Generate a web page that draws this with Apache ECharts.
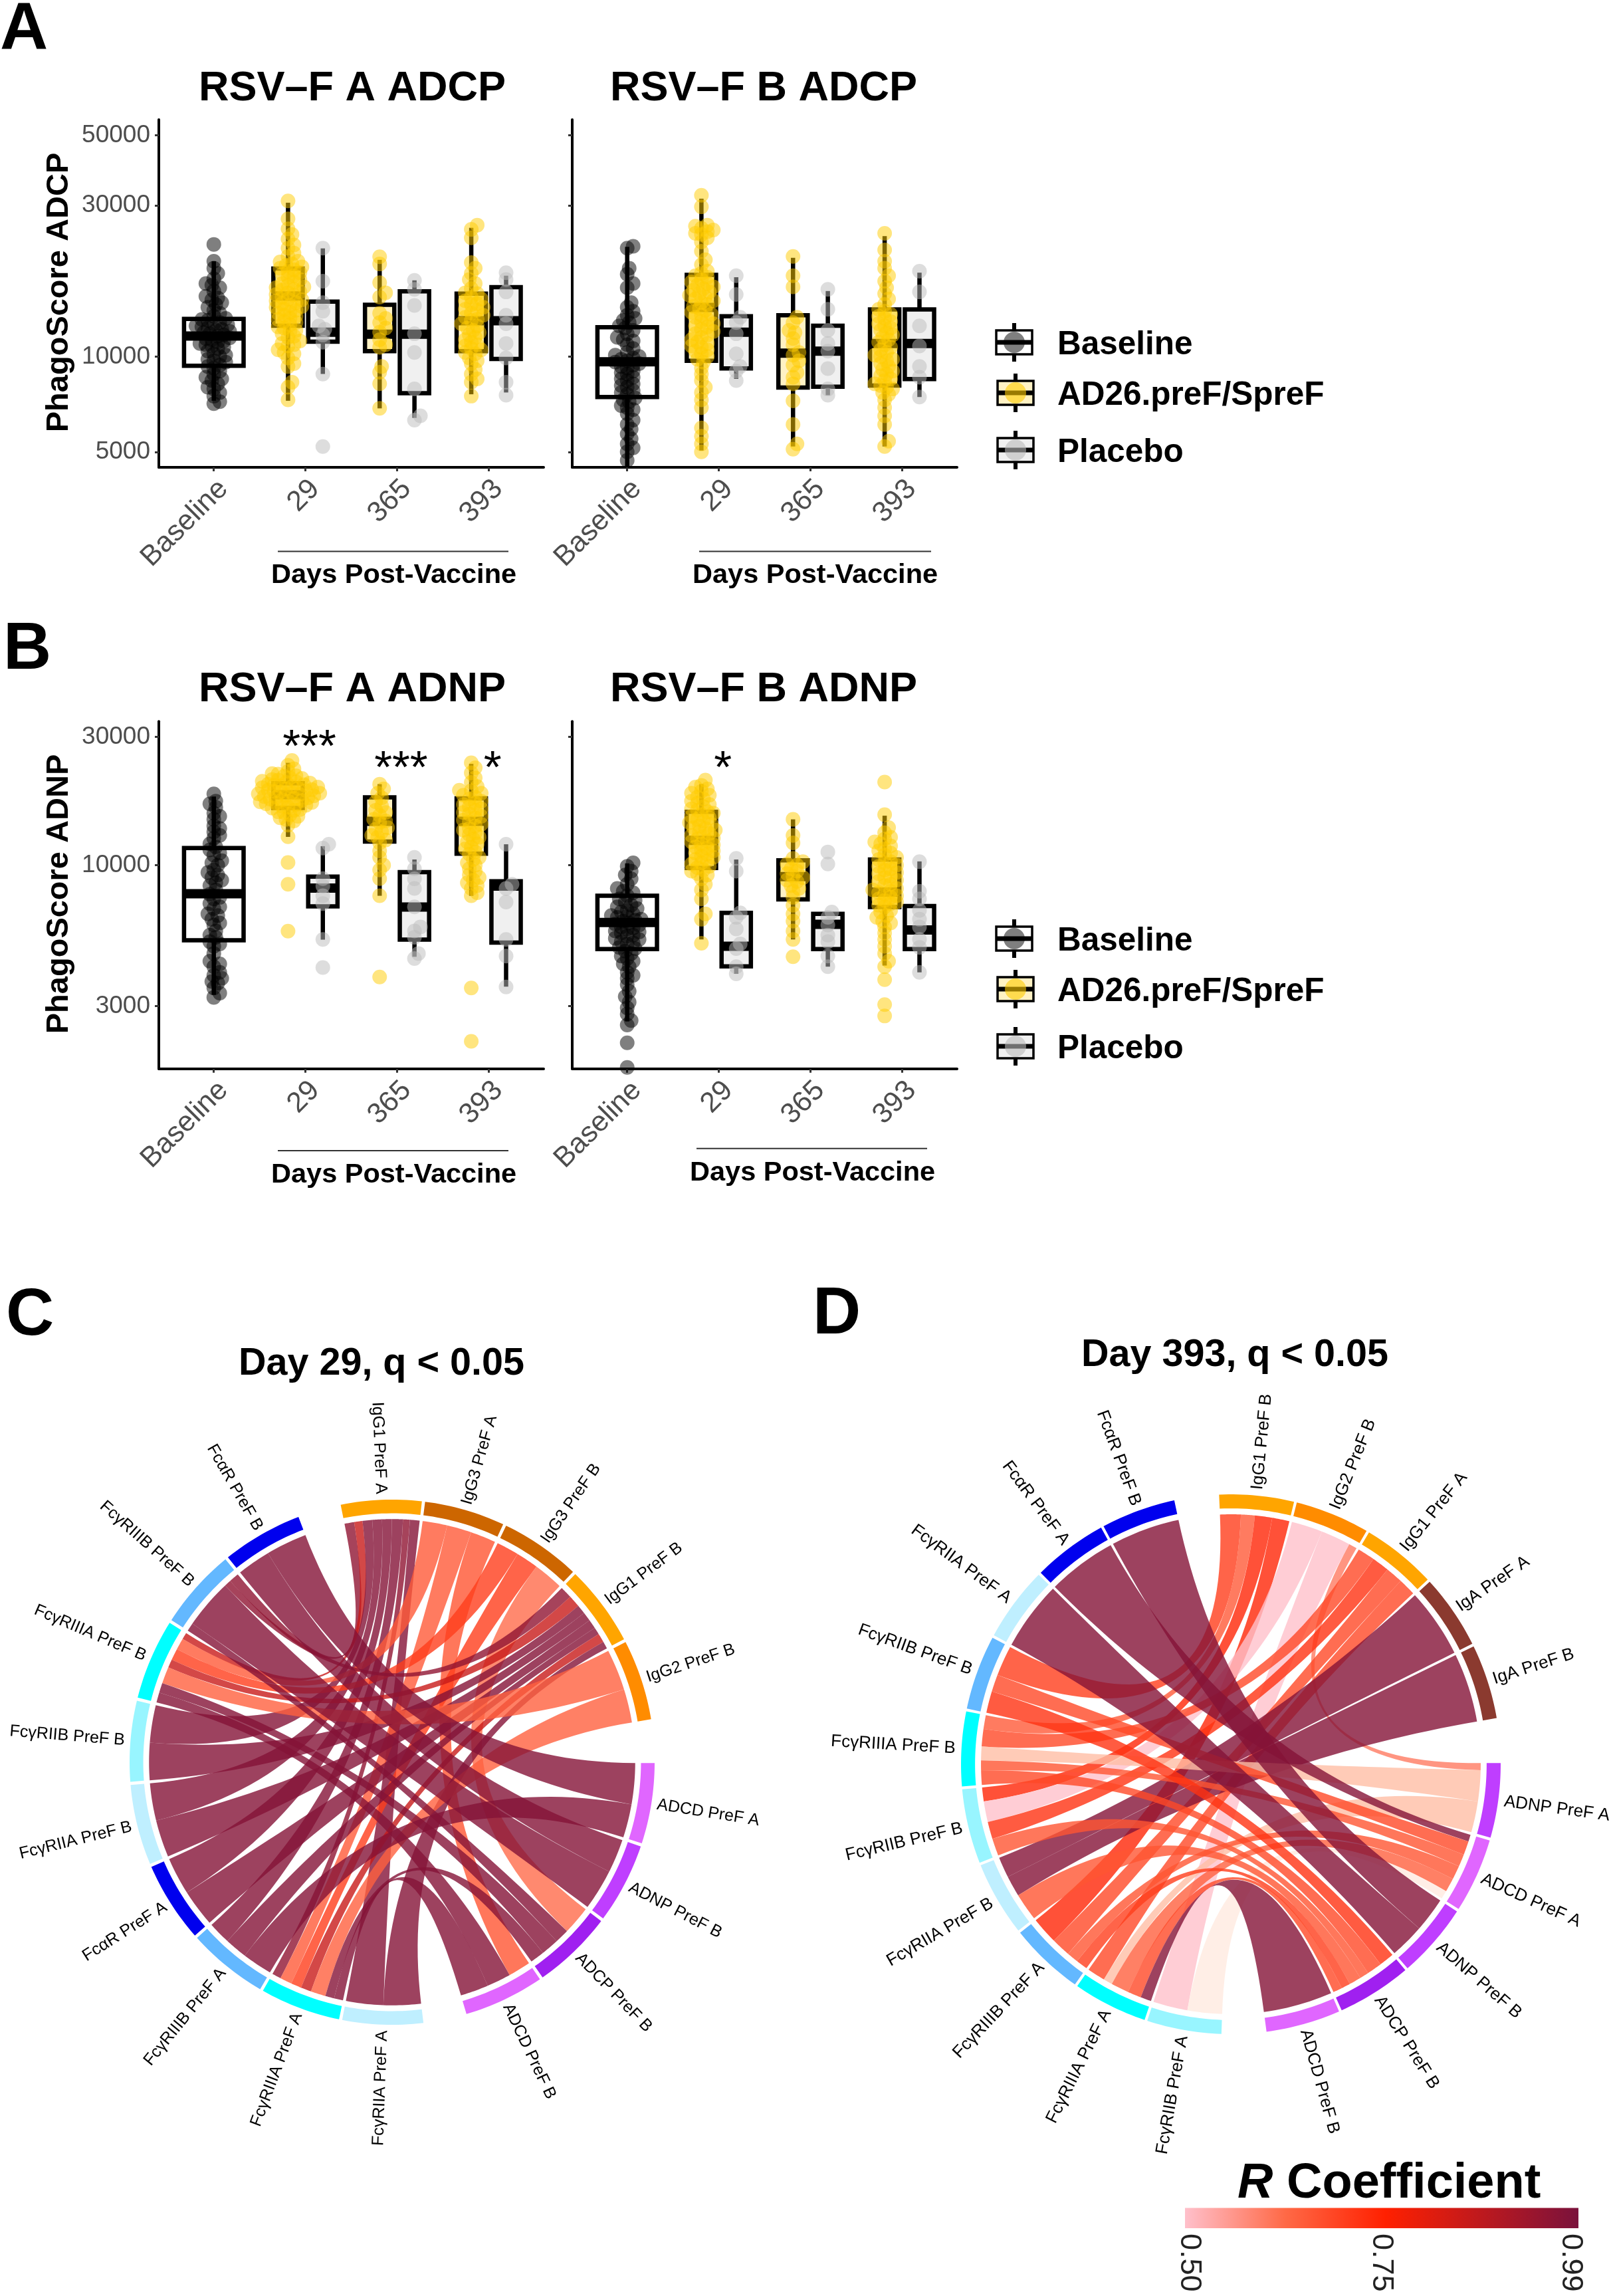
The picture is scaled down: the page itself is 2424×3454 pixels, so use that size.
<!DOCTYPE html>
<html><head><meta charset="utf-8"><style>html,body{margin:0;padding:0;background:#fff}#c{width:2424px;height:3454px}</style>
<script src="https://cdn.jsdelivr.net/npm/echarts@6/dist/echarts.min.js"></script></head><body><div id="c"></div>
<script>
const dayCategories=['Baseline','29','365','393'];
const adcpTicks=[5000,10000,30000,50000];
const adnpTicks=[3000,10000,30000];
const groupOrder=['Baseline','AD26.preF/SpreF','Placebo'];
// box stats: [low whisker, q1, median, q3, high whisker], order: baseline, vac29, pla29, vac365, pla365, vac393, pla393
const adcpA_box=[[7250,9350,11610,13150,20000],[7250,12510,15530,18960,30600],[8810,11140,11940,14900,21950],[6860,10400,11770,14570,20200],[6400,7660,11770,16060,17400],[7600,10400,12970,15800,25500],[7700,9830,12970,16560,18000]];
const adcpB_box=[[4470,7450,9620,12380,22200],[5050,9700,14290,18100,31500],[8500,9170,11940,13400,17800],[5200,7980,10250,13500,20500],[7550,8030,10400,12510,16100],[5200,8100,10990,14090,24000],[7450,8490,10990,14090,18400]];
const adnpA_box=[[3300,5260,7830,11580,17990],[12740,16310,18280,20160,24000],[5290,7030,8220,9070,11770],[7700,12240,14550,17870,20000],[4570,5290,6990,9430,10500],[7700,11030,14550,17700,23800],[3540,5160,8360,8720,11960]];
const adnpB_box=[[2630,4880,6130,7700,10160],[5300,9770,12360,15790,20000],[3950,4210,5000,6650,10500],[5300,7460,9070,10430,14800],[4200,4880,6030,6600,6700],[4240,6990,7950,10500,15270],[4000,4880,5750,7050,10330]];
// subject-level points, same order
const adcpA_pts=[
[22600,20000,19000,18300,17600,17000,16500,16100,15500,15100,14800,14300,14000,13700,13400,13200,13000,12800,12500,12300,12200,12000,11900,11700,11600,11400,11300,11100,11000,10800,10600,10400,10200,10000,9800,9700,9400,9200,9000,8800,8600,8400,8200,7900,7700,7500,7200,7100,12600,12100,11800,11450,11200,10900,12400,12700,13100,10700,10100,9600,14600,15300,16800,8500,9300,8000],
[31000,27200,25300,24300,23500,22500,22000,21200,20700,20000,19600,19200,18800,18400,18000,17500,17200,16800,16500,16200,15900,15600,15400,15100,14800,14500,14300,14000,13700,13400,13100,12800,12600,12300,12000,11800,11500,11200,11000,10800,10500,10200,9900,9500,9300,8300,8000,7300,19900,19400,19000,18600,18200,17800,17000,16600,16300,16000,15700,15200,15000,14700,14400,14100,13800,13500,13200,12900,12400,12100,11600,10900,10300],
[22000,17300,14800,13900,12500,12200,11700,11100,8800,5200],
[20650,19600,17100,15900,13700,13200,11940,11300,10690,9300,8920,8210,6860,15400,12800,12300,10900],
[17400,16300,14500,11800,10300,7900,6500,6300],
[26000,25200,23700,19800,19000,18300,17500,17000,16400,15800,15400,15000,14600,14300,14000,13700,13300,13000,12700,12300,11900,11500,11100,10800,10500,10200,9900,9500,9100,8800,8500,8300,7500,15900,15200,14700,14100,13500,13100,12500,12100,11700,11300,10900,10600,10300,9700],
[18400,17500,16000,13500,12700,11000,9900,8300,7550]];
const adcpB_pts=[
[22300,22000,19000,18200,17000,16500,14800,14300,13900,13500,13200,12800,12500,12100,11800,11500,11200,10900,10600,10300,10000,9800,9600,9400,9200,9000,8800,8600,8400,8200,8000,7800,7600,7400,7200,7000,6800,6600,6300,6100,5900,5700,5500,5300,5150,5000,4700,13000,12300,11300,10100,9900,9700,9500,9300,8900,8500,8100,7700,7300,6900],
[32300,29700,26000,25400,24800,24300,23700,23000,21500,20200,19500,18600,18000,17500,17000,16600,16200,15800,15400,15000,14600,14200,13800,13500,13100,12700,12400,12000,11700,11300,11000,10700,10400,10000,9600,9200,8800,8400,8000,7700,7300,6900,5950,5600,5300,5000,25800,25100,24500,18300,17800,17200,16800,16400,16000,15600,15200,14800,14400,14000,13600,13300,12900,12500,12200,11800,11500,11100,10800,10500,10200,9800],
[18000,15700,13300,12800,11800,10200,9300,9000,8400],
[20700,18000,16600,13300,12800,12100,11400,10300,9700,8900,8200,7250,6100,5300,5100,11900,10900,10100,9400,8600],
[16300,14100,12100,11000,10400,9160,7900,7550],
[24500,21700,20000,19000,18000,17300,16500,15800,15200,14600,14100,13600,13200,12700,12300,11900,11500,11100,10700,10300,10000,9700,9300,9000,8700,8400,8100,7900,7600,7300,6900,6500,6100,5400,5200,13900,13400,12900,12500,12100,11700,11300,10900,10500,10100,9800,9500,9100,8800,8500,8200,8000,7700],
[18600,16000,12500,10800,9300,8600,7450]];
const adnpA_pts=[
[18400,17300,16400,15600,14800,14000,13300,12600,12000,11400,10900,10400,10000,9600,9200,8800,8400,8100,7800,7500,7200,6900,6600,6300,6000,5700,5400,5200,5000,4700,4400,4200,4000,3800,3650,3500,3350,3230,16900,15200,13700,12900,11700,11100,10200,9400,9000,8600,7600,7000,6500,6100,5500,5100,4300,3900,3700],
[24500,23500,22800,22300,21800,21500,21100,20800,20500,20300,20000,19800,19600,19400,19200,19000,18800,18600,18400,18200,18000,17800,17600,17400,17200,17000,16800,16600,16300,16000,15700,15400,15000,14600,14100,12750,10230,8500,5690,21900,21400,21000,20700,20400,20200,19900,19700,19500,19300,19100,18900,18700,18500,18300,18100,17900,17700,17500,17300,17100,16900,16700,16400,16100,15800,15200,14800],
[11970,11580,8920,8360,7700,7200,5300,4170],
[20000,19200,18500,17800,17200,16600,16000,15300,14800,14400,13800,13300,12700,12100,10000,8920,7700,3845,15700,14600,13600,12900,12400,11300,10700,9600],
[10700,9700,8900,8200,7000,5900,5700,5400,4700,4500],
[24000,23000,22000,21100,20300,19600,18900,18200,17600,17000,16500,16000,15500,15000,14500,14000,13500,13000,12500,12000,11500,11000,10500,10000,9500,9000,8600,8200,7900,7700,3500,2217,19000,18500,17900,17300,16800,16200,15700,15200,14700,14200,13700,13200,12700,12200,11700,11200,10700,10200,9700,9200,8800,8400],
[11970,8500,8200,7300,5300,4600,3530]];
const adnpB_pts=[
[10200,9900,9500,9200,8900,8500,8200,7900,7700,7500,7300,7100,6900,6800,6600,6500,6400,6300,6200,6100,6000,5900,5800,5700,5600,5450,5300,5200,5100,4950,4800,4600,4400,4200,4000,3800,3600,3400,3250,3100,2950,2800,2650,2550,2190,1775,8000,7400,7000,6700,6450,6250,6050,5850,5650,5500,5350,5150,4900,4700,4500,4300,3900],
[20700,19800,19200,18500,17900,17300,16800,16200,15800,15400,15000,14600,14200,13800,13500,13100,12800,12500,12200,11900,11600,11300,11000,10700,10400,10100,9800,9500,9200,8900,8500,8100,7500,6600,6300,5130,19500,18800,18200,17600,17000,16500,16000,15600,15200,14800,14400,14000,13700,13300,12900,12600,12300,12000,11700,11400,11100,10800,10500,10200,9900,9600,9300],
[10600,9500,6650,6400,5800,5100,4900,4200,3950],
[14800,12900,12100,10600,10300,10000,9700,9300,9000,8700,8400,8000,7600,7100,6600,6200,5700,5300,4570,10100,9500,9100,8800,8200],
[11200,10100,6700,6400,6000,5500,5200,4600,4200],
[20370,15400,13800,13200,12700,12200,11800,11300,10900,10500,10200,9900,9600,9300,9000,8700,8400,8100,7900,7700,7500,7300,7100,6800,6500,6200,5900,5600,5300,5000,4700,4400,4200,3760,3035,2755,12500,12000,11500,11100,10700,10300,10000,9700,9400,9100,8800,8500,8200,8000,7800,7600,7400,7200,7000,6700,6400,6100],
[10300,8000,7500,6800,6300,5900,5300,4950,4000]];
// significance stars: [category index, value, star count]
const starsAdnpA=[[2,29300,3],[3,24520,3],[4,24520,1]];
const starsAdnpB=[[2,24520,1]];

// chord C
const sectorsC=['IgG1 PreF A','IgG3 PreF A','IgG3 PreF B','IgG1 PreF B','IgG2 PreF B','ADCD PreF A','ADNP PreF B','ADCP PreF B','ADCD PreF B','FcγRIIA PreF A','FcγRIIIA PreF A','FcγRIIIB PreF A','FcαR PreF A','FcγRIIA PreF B','FcγRIIB PreF B','FcγRIIIA PreF B','FcγRIIIB PreF B','FcαR PreF B'];
const sectorColorsC=['#FFA500','#CD6600','#CD6600','#FFA500','#FF8C00','#E066FF','#BF3EFF','#A020F0','#E066FF','#BFEFFF','#00FFFF','#63B8FF','#0000EE','#BFEFFF','#98F5FF','#00FFFF','#63B8FF','#0000EE'];
// [sector a, sector b, share of a, share of b, R]
const linksC=[
[0,16,.14,.12,.95],[0,15,.12,.08,.85],[0,14,.14,.5,.97],[0,13,.14,.5,.97],[0,12,.14,.5,.97],[0,11,.16,.3,.97],[0,10,.1,.12,.95],[0,9,.14,.5,.97],
[1,15,.33,.14,.65],[1,10,.33,.16,.65],[1,8,.34,.28,.66],
[2,15,.3,.14,.70],[2,10,.3,.14,.70],[2,7,.4,.4,.62],
[3,16,.2,.08,.95],[3,15,.2,.1,.85],[3,14,.15,.5,.97],[3,13,.15,.5,.97],[3,12,.15,.5,.97],[3,11,.12,.3,.97],[3,10,.15,.14,.85],[3,9,.12,.5,.97],
[4,15,.55,.2,.64],[4,10,.45,.2,.64],
[5,17,.55,.55,.97],[5,11,.45,.4,.97],
[6,17,.45,.45,.97],[6,16,.55,.6,.97],
[7,15,.25,.12,.97],[7,10,.2,.12,.97],[7,16,.2,.1,.97],
[8,15,.3,.12,.97],[8,10,.35,.12,.97]];
// chord D
const sectorsD=['IgG1 PreF B','IgG2 PreF B','IgG1 PreF A','IgA PreF A','IgA PreF B','ADNP PreF A','ADCD PreF A','ADNP PreF B','ADCP PreF B','ADCD PreF B','FcγRIIB PreF A','FcγRIIIA PreF A','FcγRIIIB PreF A','FcγRIIA PreF B','FcγRIIB PreF B','FcγRIIIA PreF B','FcγRIIB PreF B','FcγRIIA PreF A','FcαR PreF A','FcαR PreF B'];
const sectorColorsD=['#FFA500','#FF8C00','#FFA500','#8B3A2F','#8B3A2F','#BF3EFF','#E066FF','#BF3EFF','#A020F0','#E066FF','#98F5FF','#00FFFF','#63B8FF','#BFEFFF','#98F5FF','#00FFFF','#63B8FF','#BFEFFF','#0000EE','#0000EE'];
const linksD=[
[0,16,.3,.35,.70],[0,15,.2,.2,.65],[0,12,.25,.35,.74],[0,14,.25,.2,.74],
[1,5,.12,.1,.6],[1,14,.45,.3,.5],[1,10,.43,.5,.5],
[2,15,.25,.25,.68],[2,14,.25,.25,.72],[2,11,.25,.2,.68],[2,12,.25,.25,.68],
[3,13,1,.3,.97],[4,13,1,.3,.97],
[5,11,.45,.1,.46],[5,15,.45,.2,.46],
[6,18,.1,1,.97],[6,16,.2,.2,.68],[6,15,.18,.15,.66],[6,12,.2,.15,.66],[6,11,.2,.2,.64],[6,10,.12,.5,.41],
[7,19,.5,1,.97],[7,17,.5,1,.97],
[8,16,.25,.25,.72],[8,15,.25,.2,.68],[8,13,.2,.4,.66],[8,12,.15,.15,.7],[8,11,.15,.15,.68],[8,14,.15,.25,.66],
[9,11,1,.12,.97]];
const rScaleStops=[.40,.46,.50,.625,.75,.99];
const rScaleColors=[[255,243,236],[255,190,165],[255,192,203],[255,105,70],[255,32,0],[122,18,60]];

const SANS='"Liberation Sans",Arial,sans-serif';
function rColor(r){let i=0;while(i<rScaleStops.length-2&&r>rScaleStops[i+1])i++;const t=Math.max(0,Math.min(1,(r-rScaleStops[i])/(rScaleStops[i+1]-rScaleStops[i])));const a=rScaleColors[i],b=rScaleColors[i+1];return 'rgb('+a.map((v,k)=>Math.round(v+(b[k]-v)*t)).join(',')+')';}

// ---------- panels ----------
const panels=[
 {box:adcpA_box,pts:adcpA_pts,left:239,top:180,w:579,h:523,min:4469,max:55970,ticks:adcpTicks,labels:true,dec:477,stars:[]},
 {box:adcpB_box,pts:adcpB_pts,left:861,top:180,w:579,h:523,min:4469,max:55970,ticks:adcpTicks,labels:false,dec:477,stars:[]},
 {box:adnpA_box,pts:adnpA_pts,left:239,top:1085.3,w:579,h:522.4,min:1755,max:34190,ticks:adnpTicks,labels:true,dec:405.3,stars:starsAdnpA},
 {box:adnpB_box,pts:adnpB_pts,left:861,top:1085.3,w:579,h:522.4,min:1755,max:34190,ticks:adnpTicks,labels:false,dec:405.3,stars:starsAdnpB}];
const unitPx=138.6, dodge=.19, labelShift=.105;
const groupX=[1,2-dodge,2+dodge,3-dodge,3+dodge,4-dodge,4+dodge];
const groupKind=[0,1,2,1,2,1,2];
const boxFill=['#ffffff','#FFF2C4','#F0F0F0'];
const dotColor=['#000000','#FFCC00','#BBBBBB'];
function swarm(vals,dec){const s=[...vals].sort((a,b)=>a-b),placed=[],out=[];const minD=9;
 for(const v of s){const y=Math.log10(v)*dec;let k=0,off=0;for(;;){off=(k%2?1:-1)*Math.ceil(k/2)*3;if(placed.every(p=>(p[0]-off)**2+(p[1]-y)**2>=minD*minD))break;k++;}placed.push([off,y]);out.push([v,off/unitPx]);}return out;}
const grids=[],xAxes=[],yAxes=[],series=[];
panels.forEach((p,i)=>{
 grids.push({left:p.left,top:p.top,width:p.w,height:p.h,containLabel:false});
 xAxes.push({type:'value',gridIndex:i,min:.4,max:4.6,splitLine:{show:false},axisLine:{onZero:false,lineStyle:{color:'#000',width:4}},
  axisTick:{customValues:[1,2,3,4],length:6,lineStyle:{color:'#333',width:3}},
  axisLabel:{customValues:[1,2,3,4].map(c=>c+labelShift),formatter:v=>dayCategories[Math.floor(v)-1],rotate:45,fontSize:43,fontFamily:SANS,color:'#4d4d4d',margin:26}});
 yAxes.push({type:'log',logBase:10,gridIndex:i,min:p.min,max:p.max,splitLine:{show:false},axisLine:{show:true,onZero:false,lineStyle:{color:'#000',width:4}},
  axisTick:{show:true,customValues:p.ticks,length:6,lineStyle:{color:'#333',width:3}},minorTick:{show:false},
  axisLabel:{show:p.labels,customValues:p.ticks,formatter:v=>String(Math.round(v)),fontSize:37,fontFamily:SANS,color:'#4d4d4d',margin:13}});
 series.push({type:'custom',xAxisIndex:i,yAxisIndex:i,animation:false,clip:false,silent:true,z:3,
  data:p.box.map((b,g)=>[groupX[g],...b,groupKind[g]]),
  renderItem(params,api){const x=api.value(0),k=api.value(6),hw=k===0?.325:.16;
   const P=(a,b)=>api.coord([a,b]);
   const lo=P(x,api.value(1)),q1l=P(x-hw,api.value(2)),q3r=P(x+hw,api.value(4)),m=P(x-hw,api.value(3)),mr=P(x+hw,api.value(3)),hi=P(x,api.value(5)),q1c=P(x,api.value(2)),q3c=P(x,api.value(4));
   const st={stroke:'#000',lineWidth:6.5,fill:null};
   return {type:'group',children:[
    {type:'line',shape:{x1:hi[0],y1:hi[1],x2:q3c[0],y2:q3c[1]},style:st},
    {type:'line',shape:{x1:lo[0],y1:lo[1],x2:q1c[0],y2:q1c[1]},style:st},
    {type:'rect',shape:{x:q1l[0],y:q3r[1],width:q3r[0]-q1l[0],height:q1l[1]-q3r[1]},style:{stroke:'#000',lineWidth:6.5,fill:boxFill[k]}},
    {type:'line',shape:{x1:m[0],y1:m[1],x2:mr[0],y2:mr[1]},style:{stroke:'#000',lineWidth:14}}]};
  }});
 groupOrder.forEach((name,kind)=>{
  const d=[];p.pts.forEach((vals,g)=>{if(groupKind[g]===kind)swarm(vals,p.dec).forEach(r=>d.push([groupX[g]+r[1],r[0]]));});
  series.push({type:'scatter',name,xAxisIndex:i,yAxisIndex:i,data:d,symbol:'circle',symbolSize:22,silent:true,animation:false,clip:false,z:4,itemStyle:{color:dotColor[kind],opacity:.5}});
 });
 if(p.stars.length)series.push({type:'custom',xAxisIndex:i,yAxisIndex:i,animation:false,clip:false,silent:true,z:5,data:p.stars,encode:{x:0,y:1},
  renderItem(params,api){const c=api.coord([api.value(0),api.value(1)]);
   return {type:'text',x:c[0]+6,y:c[1]+14,style:{text:'*'.repeat(api.value(2)),fontSize:69,fontFamily:SANS,fill:'#000',align:'center',verticalAlign:'middle'}};}});
});

// ---------- chords ----------
function chord(gridIdx,names,colors,links,start,gap,big,bigAfter,labelSize){
 const n=names.length,totalGap=gap*(n-1-bigAfter.length)+big*bigAfter.length;
 const s=(360-totalGap-big)/n;
 const ang=[];let a=start;names.forEach((_,i)=>{ang.push([a,a-s]);a-=s+(bigAfter.includes(i)?big:gap);});
 const used=names.map(()=>[]);
 links.forEach((l,li)=>{used[l[0]].push({li,end:0,w:l[2],other:l[1]});used[l[1]].push({li,end:1,w:l[3],other:l[0]});});
 const pos=links.map(()=>[null,null]);
 used.forEach((arr,i)=>{const mid=(ang[i][0]+ang[i][1])/2;const cw=o=>{let d=(mid-(ang[o][0]+ang[o][1])/2)%360;if(d<0)d+=360;return d;};
  arr.sort((p,q)=>cw(q.other)-cw(p.other));const tot=arr.reduce((t,e)=>t+e.w,0);let cur=ang[i][0];arr.forEach(e=>{const w=e.w/tot*s;pos[e.li][e.end]=[cur,cur-w];cur-=w;});});
 const rad=d=>d*Math.PI/180,U=(r,d)=>[r*Math.cos(rad(d)),r*Math.sin(rad(d))];
 const R1=.926,T0=.948,T1=1;
 xAxes.push({type:'value',gridIndex:gridIdx,min:-1,max:1,show:false});
 yAxes.push({type:'value',gridIndex:gridIdx,min:-1,max:1,show:false});
 series.push({type:'custom',xAxisIndex:gridIdx,yAxisIndex:gridIdx,animation:false,clip:false,silent:true,z:2,data:links.map(l=>[l[0],l[1],l[4]]),
  renderItem(p,api){const [A,B]=pos[p.dataIndex],r=links[p.dataIndex][4],pts=[];
   const arc=(d0,d1)=>{for(let i=0;i<=12;i++){const d=d0+(d1-d0)*i/12;pts.push(U(R1,d));}};
   const bez=(P,Q)=>{for(let i=1;i<40;i++){const t=i/40,u=(1-t)*(1-t),v=t*t;pts.push([u*P[0]+v*Q[0],u*P[1]+v*Q[1]]);}};
   arc(A[0],A[1]);bez(U(R1,A[1]),U(R1,B[0]));arc(B[0],B[1]);bez(U(R1,B[1]),U(R1,A[0]));
   return {type:'polygon',shape:{points:pts.map(q=>api.coord(q))},style:{fill:rColor(r),opacity:.8}};}});
 series.push({type:'custom',xAxisIndex:gridIdx,yAxisIndex:gridIdx,animation:false,clip:false,silent:true,z:3,data:names.map((_,i)=>[i,ang[i][0],ang[i][1]]),
  renderItem(p,api){const [d0,d1]=ang[p.dataIndex],pts=[];for(let i=0;i<=16;i++)pts.push(U(T1,d0+(d1-d0)*i/16));for(let i=16;i>=0;i--)pts.push(U(T0,d0+(d1-d0)*i/16));
   const mid=(d0+d1)/2,L=api.coord(U(1.022,mid)),u=U(1,mid),dir=Math.atan2(u[1],u[0]),right=u[0]>0;
   return {type:'group',children:[{type:'polygon',shape:{points:pts.map(q=>api.coord(q))},style:{fill:colors[p.dataIndex]}},
    {type:'text',x:L[0],y:L[1],rotation:right?dir:dir-Math.PI,style:{text:names[p.dataIndex],fontSize:labelSize,fontFamily:SANS,fill:'#000',align:right?'left':'right',verticalAlign:'middle'}}]};}});
}
grids.push({left:195,top:2256,width:790,height:790});
chord(4,sectorsC,sectorColorsC,linksC,101.3,.7,9.6,[4,8],25);
grids.push({left:1446,top:2248,width:812,height:812});
chord(5,sectorsD,sectorColorsD,linksD,92.5,.6,9.6,[4,9],26);

// ---------- annotations ----------
function T(text,x,base,fs,o={}){return {type:'text',x,y:base-.3465*fs,z:10,style:Object.assign({text,fontSize:fs,fontWeight:o.w||'bold',fontFamily:SANS,fill:o.c||'#000',align:o.a||'left',verticalAlign:'middle'},o.style||{})};}
const g=[];
g.push(T('A',0,81.5,100),T('B',5,1013,100),T('C',9,2015,100),T('D',1223,2013,100));
g.push(T('RSV–F A ADCP',299,155,63),T('RSV–F B ADCP',918,155,63),T('RSV–F A ADNP',299,1059,63),T('RSV–F B ADNP',918,1059,63));
g.push({type:'text',x:89,y:440,rotation:Math.PI/2,z:10,style:{text:'PhagoScore ADCP',fontSize:47,fontWeight:'bold',fontFamily:SANS,fill:'#000',align:'center',verticalAlign:'middle'}});
g.push({type:'text',x:89,y:1345,rotation:Math.PI/2,z:10,style:{text:'PhagoScore ADNP',fontSize:47,fontWeight:'bold',fontFamily:SANS,fill:'#000',align:'center',verticalAlign:'middle'}});
[[418,765,829.5,408,880],[1052,1401,829.5,1042,880],[418,765,1731,408,1782],[1048,1395,1727.7,1038,1779]].forEach(r=>{
 g.push({type:'line',z:10,shape:{x1:r[0],y1:r[2],x2:r[1],y2:r[2]},style:{stroke:'#333',lineWidth:2}});
 g.push(T('Days Post-Vaccine',r[3],r[4],41.5));});
g.push(T('Day 29, q < 0.05',359,2072,57.5),T('Day 393, q < 0.05',1627,2059.5,57.5));
[0,897].forEach(dy=>{
 [[groupOrder[0],1526,515,536,'#fff','#000',.5],[groupOrder[1],1528,591,612,'#FFF2C4','#FFCC00',.6],[groupOrder[2],1528,677,698,'#F0F0F0','#BBBBBB',.6]].forEach(k=>{
  const cx=k[1],cy=k[2]+dy;
  g.push({type:'line',z:10,shape:{x1:cx,y1:cy-29,x2:cx,y2:cy+29},style:{stroke:'#000',lineWidth:6}});
  g.push({type:'rect',z:10,shape:{x:cx-27,y:cy-18,width:54,height:36},style:{fill:k[4],stroke:'#000',lineWidth:3.5}});
  g.push({type:'rect',z:10,shape:{x:cx-27,y:cy-3.5,width:54,height:7},style:{fill:'#000'}});
  g.push({type:'circle',z:11,shape:{cx,cy,r:16},style:{fill:k[5],opacity:k[6]}});
  g.push(T(k[0],1591,k[3]+dy,49.5));
 });});
const cbarStops=[.5,.625,.75,.87,.99];
g.push({type:'rect',z:10,shape:{x:1783,y:3321.5,width:592,height:30.5},style:{fill:new echarts.graphic.LinearGradient(0,0,1,0,cbarStops.map(v=>({offset:(v-.5)/.49,color:rColor(v)})))}});
[['0.50',1789],['0.75',2078],['0.99',2363]].forEach(r=>g.push({type:'text',z:10,x:r[1],y:3360,rotation:-Math.PI/2,style:{text:r[0],fontSize:45,fontFamily:SANS,fill:'#222',align:'left',verticalAlign:'middle'}}));
g.push({type:'text',z:10,x:1862,y:3311-.3465*74,style:{text:'{i|R} {b|Coefficient}',fontSize:74,fontFamily:SANS,fill:'#000',align:'left',verticalAlign:'middle',rich:{i:{fontSize:74,fontWeight:'bold',fontStyle:'italic',fontFamily:SANS},b:{fontSize:74,fontWeight:'bold',fontFamily:SANS}}}});

const chart=echarts.init(document.getElementById('c'),null,{width:2424,height:3454});
chart.setOption({backgroundColor:'#fff',animation:false,tooltip:{show:false},grid:grids,xAxis:xAxes,yAxis:yAxes,series,graphic:{elements:g}});
</script></body></html>
